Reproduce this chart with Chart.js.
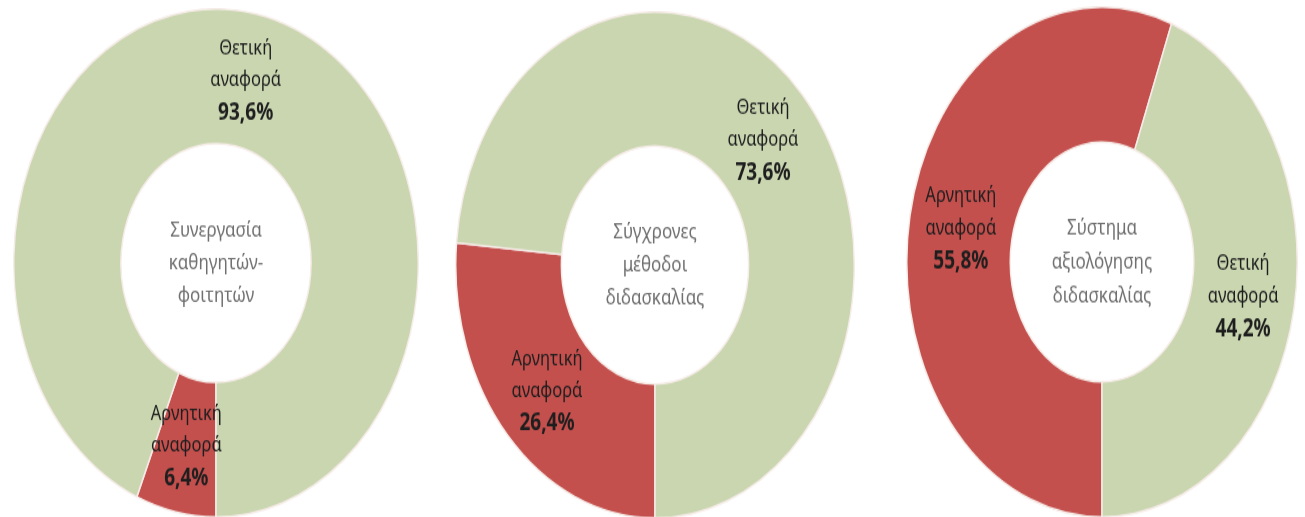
<!DOCTYPE html>
<html lang="el">
<head>
<meta charset="utf-8">
<title>Αξιολόγηση</title>
<script src="https://cdn.jsdelivr.net/npm/chart.js@4"></script>
<style>
  html, body {
    margin: 0;
    padding: 0;
    width: 1305px;
    height: 517px;
    background: #ffffff;
    overflow: hidden;
  }
  #page {
    position: relative;
    width: 1305px;
    height: 517px;
    overflow: hidden;
  }
  .ring {
    position: absolute;
    transform-origin: 0 0;
  }
</style>
</head>
<body>
<div id="page">
  <div class="ring" style="left:13px; top:8px; width:406px; height:406px; transform:scaleY(1.256);"><canvas id="ring1"></canvas></div>
  <div class="ring" style="left:455px; top:11px; width:400px; height:400px; transform:scaleY(1.27);"><canvas id="ring2"></canvas></div>
  <div class="ring" style="left:906px; top:6px; width:392px; height:392px; transform:scaleY(1.306);"><canvas id="ring3"></canvas></div>
</div>

<script>
// slice categories (same order in every ring)
const sliceNames = [["Αρνητική", "αναφορά"], ["Θετική", "αναφορά"]];
const sliceColors = ["#c4504e", "#c9d6b0"];

// percentages per ring: [negative, positive]
const cooperationValues = [6.4, 93.6];
const methodsValues = [26.4, 73.6];
const evaluationValues = [55.8, 44.2];

// text in the middle of each ring
const cooperationTitle = ["Συνεργασία", "καθηγητών-", "φοιτητών"];
const methodsTitle = ["Σύγχρονες", "μέθοδοι", "διδασκαλίας"];
const evaluationTitle = ["Σύστημα", "αξιολόγησης", "διδασκαλίας"];

const FONT = "'Noto Sans', 'DejaVu Sans', sans-serif";

function formatPercent(v) {
  return v.toFixed(1).replace(".", ",") + "%";
}

// draws the slice labels and the centre title
const ringLabels = {
  id: "ringLabels",
  afterDatasetsDraw(chart, args, opts) {
    const ctx = chart.ctx;
    const meta = chart.getDatasetMeta(0);
    const values = chart.data.datasets[0].data;
    ctx.save();
    ctx.textAlign = "center";
    ctx.textBaseline = "middle";

    meta.data.forEach((arc, i) => {
      const pos = arc.tooltipPosition();
      const lines = sliceNames[i];
      const lh = 25;
      ctx.fillStyle = "#1e1e1e";
      ctx.font = "16.5px " + FONT;
      ctx.fillText(lines[0], pos.x, pos.y - lh);
      ctx.fillText(lines[1], pos.x, pos.y);
      ctx.font = "bold 19px " + FONT;
      ctx.fillText(formatPercent(values[i]), pos.x, pos.y + lh + 1);
    });

    const cx = (chart.chartArea.left + chart.chartArea.right) / 2;
    const cy = (chart.chartArea.top + chart.chartArea.bottom) / 2;
    ctx.fillStyle = "#707070";
    ctx.font = "17px " + FONT;
    opts.title.forEach((line, k) => {
      ctx.fillText(line, cx, cy + (k - 1) * 26);
    });
    ctx.restore();
  }
};

function renderRing(canvasId, values, title) {
  const ctx = document.getElementById(canvasId).getContext("2d");
  new Chart(ctx, {
    type: "doughnut",
    data: {
      labels: sliceNames.map((n) => n.join(" ")),
      datasets: [
        {
          data: values,
          backgroundColor: sliceColors,
          borderColor: "#f6ece8",
          borderWidth: 1.5,
        },
      ],
    },
    options: {
      responsive: true,
      maintainAspectRatio: false,
      animation: false,
      rotation: 180,
      cutout: "47%",
      layout: { padding: 0 },
      plugins: {
        legend: { display: false },
        tooltip: { enabled: false },
        ringLabels: { title: title },
      },
    },
    plugins: [ringLabels],
  });
}

renderRing("ring1", cooperationValues, cooperationTitle);
renderRing("ring2", methodsValues, methodsTitle);
renderRing("ring3", evaluationValues, evaluationTitle);
</script>
</body>
</html>
